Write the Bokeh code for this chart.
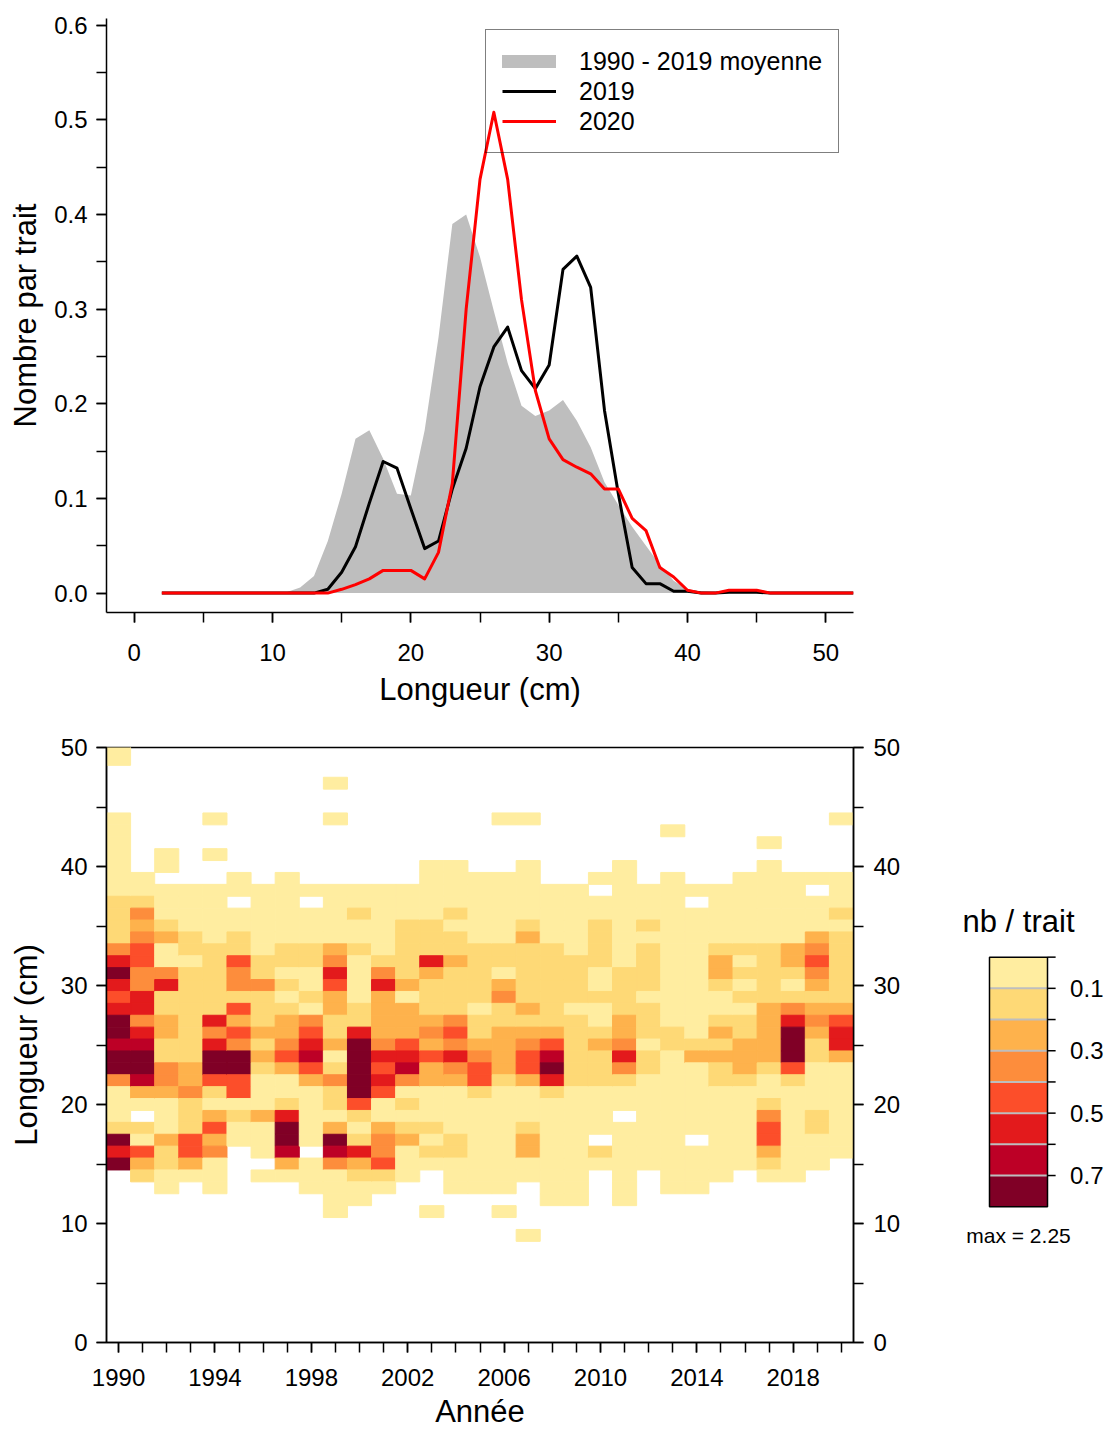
from bokeh.plotting import figure
from bokeh.models import (Range1d, FixedTicker, PrintfTickFormatter, Legend, LegendItem,
                          ColumnDataSource, LinearAxis, LinearColorMapper)
from bokeh.core.properties import value
from bokeh.layouts import column, row
from bokeh.embed import file_html
from bokeh.resources import INLINE

FONT = "Liberation Sans"

# ---------------- top panel data: number per haul by length (cm) ----------------
LENGTHS = list(range(2, 53))
MEAN_1990_2019 = [0, 0, 0, 0, 0, 0, 0, 0, 0,
                  0.001, 0.006, 0.018, 0.055, 0.105, 0.163, 0.172, 0.142, 0.105, 0.103,
                  0.172, 0.27, 0.39, 0.40, 0.355, 0.298, 0.243, 0.198, 0.187, 0.193,
                  0.204, 0.182, 0.154, 0.117, 0.093, 0.07, 0.05, 0.03, 0.013, 0.004,
                  0.002, 0.001, 0.001,
                  0, 0, 0, 0, 0, 0, 0, 0, 0]
Y2019 = [0, 0, 0, 0, 0, 0, 0, 0, 0, 0, 0, 0,
         0.004, 0.022, 0.049, 0.095, 0.139, 0.132, 0.089, 0.047, 0.055, 0.11,
         0.153, 0.218, 0.26, 0.281, 0.235, 0.216, 0.241, 0.342, 0.356, 0.323,
         0.193, 0.105, 0.027, 0.010, 0.010, 0.002, 0.002, 0.0, 0.0, 0.001,
         0.001, 0.001,
         0, 0, 0, 0, 0, 0, 0]
Y2020 = [0, 0, 0, 0, 0, 0, 0, 0, 0, 0, 0, 0, 0,
         0.004, 0.009, 0.015, 0.024, 0.024, 0.024, 0.015, 0.043, 0.116, 0.30,
         0.437, 0.508, 0.437, 0.31, 0.214, 0.163, 0.141, 0.133, 0.126, 0.11,
         0.11, 0.079, 0.066, 0.027, 0.017, 0.003, 0, 0, 0.003, 0.003, 0.003,
         0, 0, 0, 0, 0, 0, 0]
SERIES_LABELS = ["1990 - 2019 moyenne", "2019", "2020"]
TOP_X_TICKS = [0, 10, 20, 30, 40, 50]
TOP_X_MINOR = [0, 5, 10, 15, 20, 25, 30, 35, 40, 45, 50]
TOP_Y_TICKS = [0.0, 0.1, 0.2, 0.3, 0.4, 0.5, 0.6]
TOP_Y_MINOR = [0.0, 0.05, 0.1, 0.15, 0.2, 0.25, 0.3, 0.35, 0.4, 0.45, 0.5, 0.55, 0.6]

# ---------------- bottom panel data: class of nb/trait per year and length ----------------
# each string: classes for lengths 50, 49, ..., 9 cm (0 = empty, 1..8 = colour class)
YEARS = list(range(1990, 2021))
LEN_MAX = 50
HEAT_COLUMNS = [
    "11 0000 1111111 2222 4686568878841112868 000000",                 # 1990
    "00000000000 11243455446646788731021532 00000",                    # 1991
    "000000000 11011123114622332244311132211 0000",                    # 1992
    "000000000000 1111221222222223342225531 00000",                    # 1993
    "000000 10010011111222222646885213534111 0000",                    # 1994
    "00000000000 11011225442535488551211 00000000",                    # 1995
    "000000000000 1111112242223232111311101 00000",                    # 1996
    "00000000000 11111122121233453112688731 00000",                    # 1997
    "000000000000 10111221121456753111110111 0000",                    # 1998
    "000 1 00 1 00000 1111134653322312422138741111 00",                # 1999
    "000000000000 112112111122688888521263211 000",                    # 2000
    "000000000000 11111124633334656511344521 0000",                    # 2001
    "000000000000 1112222231333567412123111 00000",                    # 2002
    "0000000000 111112226322234353311121210001 00",                    # 2003
    "0000000000 1111212232222454643111122111 0000",                    # 2004
    "00000000000 111111222221223455211111111 0000",                    # 2005
    "000000 1 0000 111111 22134 2233332 111111111 0100",               # 2006
    "000000 1 000 11111 2322222323 4553 11123311 00001",               # 2007
    "000000000000 11111 2222222 35786 2 111111111 000",                # 2008
    "000000000000 111111 2222 1 222222 1111111111 000",                # 2009
    "00000000000 1011 2222 11 2 11 2 3222 1111 0 2 1 0 00000",         # 2010
    "0000000000 111111111 2222 33464 2 11 0 1111111 000",              # 2011
    "000000000000 111 2 1 2222 1 222 1 22 1 1111111 0 00000",          # 2012
    "0000000 1 000 1111111111111 22 111111111111 0000",                # 2013
    "000000000000 1 0 11111111111 2 3 111111 0 1111 0000",             # 2014
    "000000000000 11111 2332 11 232322 11111111 00000",                # 2015
    "00000000000 111111 212121 22 333 2 1111111 000000",               # 2016
    "00000000 1 0 1111111 22222 33333 2 11 2455321 00000",             # 2017
    "00000000000 111111 33212 468885 2 11111111 00000",                # 2018
    "00000000000 10111 345432 3432 2 1111 22 111 000000",              # 2019
    "000000 1 0000 111 2 1 222222 35663 11111111 0000000",             # 2020
]
PALETTE = ["#FFEDA0", "#FED976", "#FEB24C", "#FD8D3C",
           "#FC4E2A", "#E31A1C", "#BD0026", "#800026"]
CLASS_LOWER = [0.0, 0.1, 0.2, 0.3, 0.4, 0.5, 0.6, 0.7]
CLASS_UPPER = [0.1, 0.2, 0.3, 0.4, 0.5, 0.6, 0.7, 0.8]
CLASS_TICKS = [0.1, 0.3, 0.5, 0.7]
CLASS_TITLE = "nb / trait"
CLASS_MAX = 2.25
YEAR_TICKS = [1990, 1994, 1998, 2002, 2006, 2010, 2014, 2018]
LEN_TICKS = [0, 10, 20, 30, 40, 50]
LEN_MINOR = [0, 5, 10, 15, 20, 25, 30, 35, 40, 45, 50]


def style_axis(ax, label_size="24px"):
    ax.axis_line_color = "black"
    ax.axis_line_width = 1.5
    ax.major_tick_line_color = "black"
    ax.minor_tick_line_color = "black"
    ax.major_tick_line_width = 1.5
    ax.minor_tick_line_width = 1.5
    ax.major_tick_in = 0
    ax.minor_tick_in = 0
    ax.major_tick_out = 10
    ax.minor_tick_out = 10
    ax.major_label_text_font = FONT
    ax.major_label_text_font_size = label_size
    ax.major_label_text_color = "black"
    ax.axis_label_text_font = FONT
    ax.axis_label_text_font_size = "31px"
    ax.axis_label_text_font_style = "normal"
    ax.axis_label_text_color = "black"


# ---------------- top figure ----------------
p1 = figure(width=880, height=728, x_range=Range1d(-2, 52), y_range=Range1d(-0.0205, 0.607),
            output_backend="svg", toolbar_location=None,
            min_border_left=106, min_border_right=27, min_border_top=18, min_border_bottom=116)
p1.outline_line_color = None
p1.xgrid.visible = False
p1.ygrid.visible = False

src = ColumnDataSource(dict(x=LENGTHS, mean=MEAN_1990_2019, y19=Y2019, y20=Y2020))
p1.varea(x="x", y1=0, y2="mean", source=src, fill_color="#BEBEBE", fill_alpha=1.0)
r19 = p1.line("x", "y19", source=src, line_color="black", line_width=3, line_join="round")
r20 = p1.line("x", "y20", source=src, line_color="#FF0000", line_width=3, line_join="round")
# legend key for the mean (thick grey bar); the renderer itself is hidden
proxy = p1.line("x", "mean", source=src, line_color="#BEBEBE", line_width=13,
                line_cap="round", visible=False)

xa = p1.xaxis[0]
style_axis(xa)
xa.ticker = FixedTicker(ticks=TOP_X_TICKS, minor_ticks=TOP_X_MINOR)
xa.major_label_standoff = 21
xa.axis_label = "Longueur (cm)"
xa.axis_label_standoff = 8

ya = p1.yaxis[0]
style_axis(ya)
ya.ticker = FixedTicker(ticks=TOP_Y_TICKS, minor_ticks=TOP_Y_MINOR)
ya.formatter = PrintfTickFormatter(format="%.1f")
ya.major_label_standoff = 9
ya.axis_label = "Nombre par trait"
ya.axis_label_standoff = 8

legend = Legend(items=[LegendItem(label=SERIES_LABELS[0], renderers=[proxy]),
                       LegendItem(label=SERIES_LABELS[1], renderers=[r19]),
                       LegendItem(label=SERIES_LABELS[2], renderers=[r20])],
                location=(379, 459))
legend.border_line_color = "black"
legend.border_line_width = 1.5
# transparent box: the 2020 peak stays visible where it enters the legend box
legend.background_fill_alpha = 0.0
legend.padding = 16
legend.spacing = 0
legend.margin = 0
legend.glyph_width = 54
legend.glyph_height = 30
legend.label_height = 30
legend.label_standoff = 23
legend.label_text_font = FONT
legend.label_text_font_size = "25px"
legend.label_text_color = "black"
p1.add_layout(legend)

# ---------------- heatmap figure ----------------
hx, hy, hc = [], [], []
for year, col in zip(YEARS, HEAT_COLUMNS):
    codes = col.replace(" ", "")
    for i, ch in enumerate(codes):
        if ch != "0":
            hx.append(year)
            hy.append(LEN_MAX - i)
            hc.append(int(ch))
hsrc = ColumnDataSource(dict(x=hx, y=hy, c=hc))
mapper = LinearColorMapper(palette=PALETTE, low=0.5, high=len(PALETTE) + 0.5)

BOT_H = 703
BOT_TOP = 19
BOT_BOTTOM = 88

p2 = figure(width=930, height=BOT_H, x_range=Range1d(YEARS[0] - 0.5, YEARS[-1] + 0.5),
            y_range=Range1d(0, 50), output_backend="svg", toolbar_location=None,
            min_border_left=106, min_border_right=77, min_border_top=BOT_TOP,
            min_border_bottom=BOT_BOTTOM)
p2.xgrid.visible = False
p2.ygrid.visible = False
p2.outline_line_color = "black"
p2.outline_line_width = 1.5
p2.rect(x="x", y="y", width=1, height=1, source=hsrc,
        fill_color={"field": "c", "transform": mapper},
        line_color={"field": "c", "transform": mapper}, line_width=1)

bx = p2.xaxis[0]
style_axis(bx)
bx.ticker = FixedTicker(ticks=YEAR_TICKS, minor_ticks=YEARS)
bx.major_label_standoff = 16
bx.axis_label = "Année"
bx.axis_label_standoff = 5

ly = p2.yaxis[0]
style_axis(ly)
ly.ticker = FixedTicker(ticks=LEN_TICKS, minor_ticks=LEN_MINOR)
ly.major_label_standoff = 9
ly.axis_label = "Longueur (cm)"
ly.axis_label_standoff = 14

ry = LinearAxis(ticker=FixedTicker(ticks=LEN_TICKS, minor_ticks=LEN_MINOR))
style_axis(ry)
ry.major_label_standoff = 10
p2.add_layout(ry, "right")

# ---------------- colour key figure (same vertical frame as the heatmap) ----------------
# key bar spans x 0..1 and class values 0 (top) .. 0.8 (bottom); ranges padded so that
# the bar, its ticks and texts sit at the right place inside the frame
p3 = figure(width=178, height=BOT_H, x_range=Range1d(-1.0172, 2.0517),
            y_range=Range1d(1.2352, -0.672), output_backend="svg", toolbar_location=None,
            x_axis_location=None, y_axis_location=None,
            min_border_left=0, min_border_right=0, min_border_top=BOT_TOP,
            min_border_bottom=BOT_BOTTOM)
p3.xgrid.visible = False
p3.ygrid.visible = False
p3.outline_line_color = None
p3.quad(left=0, right=1, bottom=CLASS_LOWER, top=CLASS_UPPER, fill_color=PALETTE, line_color=None)
p3.segment(x0=0, x1=1, y0=CLASS_LOWER[1:], y1=CLASS_LOWER[1:], line_color="#BEBEBE", line_width=2)
p3.quad(left=0, right=1, bottom=CLASS_LOWER[0], top=CLASS_UPPER[-1], fill_color=None,
        line_color="black", line_width=1.5)
# ticks at every class boundary, labels at every other one
p3.segment(x0=1, x1=1.14, y0=CLASS_LOWER, y1=CLASS_LOWER, line_color="black", line_width=1.5)
p3.text(x=1.39, y=CLASS_TICKS, text=["%.1f" % t for t in CLASS_TICKS],
        text_align="left", text_baseline="middle", text_font=value(FONT),
        text_font_size="24px", text_color="black")
p3.text(x=0.5, y=-0.115, text=[CLASS_TITLE], text_align="center", text_baseline="alphabetic",
        text_font=value(FONT), text_font_size="31px", text_color="black")
p3.text(x=0.5, y=0.893, text=["max = %.2f" % CLASS_MAX], text_align="center",
        text_baseline="alphabetic", text_font=value(FONT), text_font_size="21px",
        text_color="black")

layout = column(p1, row(p2, p3))
open("out.html", "w").write(file_html(layout, INLINE))
